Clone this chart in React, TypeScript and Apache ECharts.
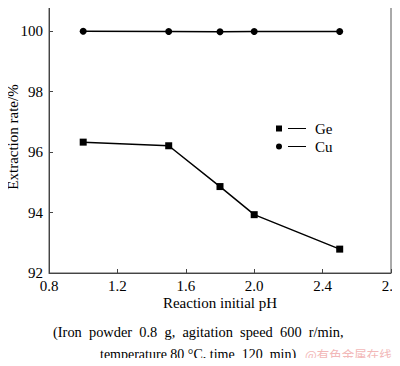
import React, { useEffect, useRef } from "react";
import * as echarts from "echarts";

const phValues = [1.0, 1.5, 1.8, 2.0, 2.5];
const geValues = [96.33, 96.21, 94.86, 93.93, 92.79];
const cuValues = [100.0, 99.99, 99.98, 99.99, 99.99];
const seriesNames = ["Ge", "Cu"];
const xTitle = "Reaction initial pH";
const yTitle = "Extraction rate/%";
const noteLine1 = "(Iron  powder  0.8  g,  agitation  speed  600  r/min,";
const noteLine2 = "temperature 80 °C, time  120  min)";
const watermark = "@有色金属在线";

const FONT = "'Liberation Serif', 'Times New Roman', serif";

export default function App() {
  const ref = useRef<HTMLDivElement>(null);
  useEffect(() => {
    if (!ref.current) return;
    const chart = echarts.init(ref.current, undefined, { renderer: "svg" });
    const lineLeg = "M12,2.6H30V3.4H12Z";
    chart.setOption({
      animation: false,
      backgroundColor: "#fff",
      textStyle: { fontFamily: FONT },
      grid: {
        left: 49,
        top: 1,
        right: 9,
        bottom: 93,
        outerBoundsMode: "none",
        containLabel: false,
        show: true,
        borderColor: "#555",
        borderWidth: 1,
        backgroundColor: "transparent",
      },
      legend: {
        orient: "vertical",
        left: 276,
        top: 121,
        padding: 0,
        itemWidth: 30,
        itemHeight: 6,
        itemGap: 3,
        textStyle: { fontFamily: FONT, fontSize: 15, color: "#000", padding: [0, 0, 0, 4] },
        data: [
          { name: seriesNames[0], icon: "path://M0,0H6V6H0Z" + lineLeg },
          { name: seriesNames[1], icon: "path://M0,3A3,3 0 1 1 6,3A3,3 0 1 1 0,3Z" + lineLeg },
        ],
      },
      xAxis: {
        type: "value",
        min: 0.8,
        max: 2.8,
        interval: 0.4,
        name: xTitle,
        nameLocation: "middle",
        nameGap: 22,
        nameMoveOverlap: false,
        nameTextStyle: { fontFamily: FONT, fontSize: 15, color: "#000" },
        axisLine: { show: true, lineStyle: { color: "#444", width: 1 } },
        axisTick: { show: true, inside: true, length: 4, lineStyle: { color: "#444" } },
        axisLabel: {
          fontFamily: FONT,
          fontSize: 15,
          color: "#000",
          margin: 5,
          formatter: (v: number) => v.toFixed(1),
        },
        splitLine: { show: false },
      },
      yAxis: {
        type: "value",
        min: 92,
        max: 101,
        interval: 2,
        name: yTitle,
        nameLocation: "middle",
        nameGap: 29,
        nameMoveOverlap: false,
        nameTextStyle: { fontFamily: FONT, fontSize: 15, color: "#000" },
        axisLine: { show: true, lineStyle: { color: "#444", width: 1 } },
        axisTick: { show: true, inside: true, length: 4, lineStyle: { color: "#444" } },
        axisLabel: {
          fontFamily: FONT,
          fontSize: 15,
          color: "#000",
          margin: 6,
          formatter: (v: number) => (v > 100 ? "" : String(v)),
        },
        splitLine: { show: false },
      },
      series: [
        {
          name: seriesNames[0],
          type: "line",
          data: phValues.map((x, i) => [x, geValues[i]]),
          symbol: "rect",
          symbolSize: 7,
          itemStyle: { color: "#000" },
          lineStyle: { color: "#000", width: 1.5 },
        },
        {
          name: seriesNames[1],
          type: "line",
          data: phValues.map((x, i) => [x, cuValues[i]]),
          symbol: "circle",
          symbolSize: 7,
          itemStyle: { color: "#000" },
          lineStyle: { color: "#000", width: 1.5 },
        },
      ],
      graphic: [
        {
          type: "text",
          left: 53,
          top: 325,
          style: { text: noteLine1, font: `14.4px ${FONT}`, fill: "#000" },
        },
        {
          type: "text",
          left: 100,
          top: 347,
          style: { text: noteLine2, font: `14px ${FONT}`, fill: "#000" },
        },
        {
          type: "text",
          left: 305,
          top: 348,
          style: { text: watermark, font: `12.5px 'Noto Sans CJK SC', sans-serif`, fill: "#f2b8b8" },
        },
      ],
    });
    return () => chart.dispose();
  }, []);
  return <div ref={ref} style={{ width: 400, height: 366, margin: -8 }} />;
}
